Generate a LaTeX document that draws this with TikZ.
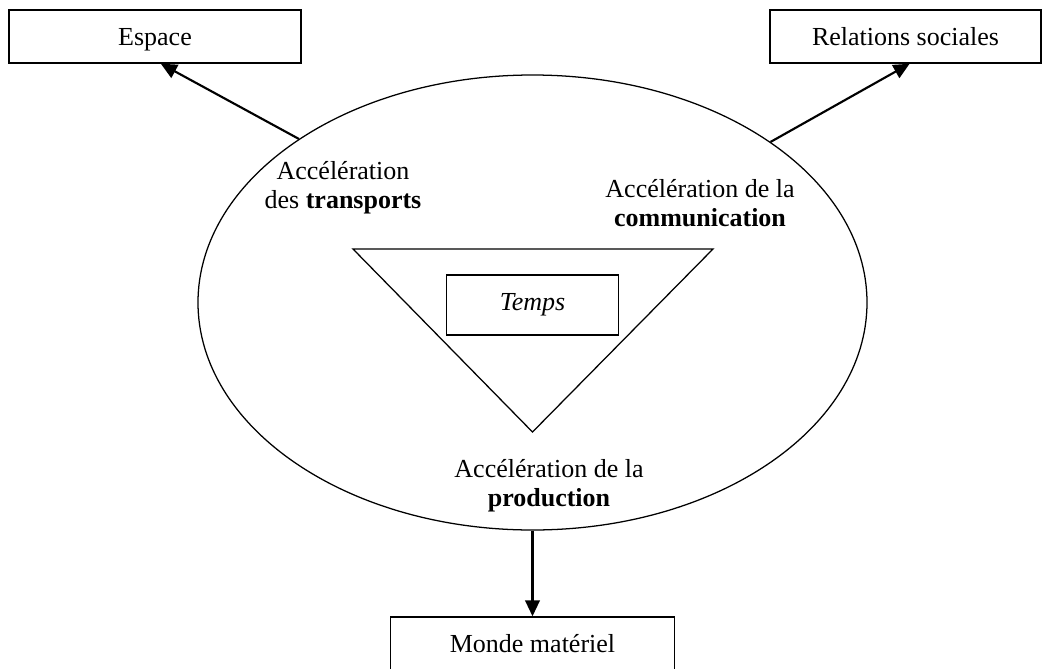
\documentclass[tikz,border=0pt]{standalone}
\usepackage{fontspec}
\setmainfont{Liberation Serif}
\usetikzlibrary{arrows.meta,shapes.geometric,calc}
\tikzset{
  box/.style={draw, line width=1.1pt, rectangle, inner sep=0pt},
  fixedtext/.style={text height=19pt, text depth=5pt},
  lbl/.style={align=center, inner sep=0pt},
  arr/.style={line width=1.6pt, -{Triangle[length=12pt,width=11pt]}},
  thin/.style={line width=0.95pt}
}
\begin{document}
\begin{tikzpicture}[x=0.75pt,y=-0.75pt,font=\fontsize{19.5}{22}\selectfont]
\useasboundingbox (0,0) rectangle (1043,668);
\node[box, fixedtext, minimum width=219pt, minimum height=39.75pt] (esp) at (155,36.5) {Espace};
\node[box, fixedtext, minimum width=203.25pt, minimum height=39.75pt] (rel) at (905.5,36.5) {Relations sociales};
\node[draw, thin, ellipse, inner sep=0pt, minimum width=501.75pt, minimum height=341.25pt] (ell) at (532.5,302.5) {};
\draw[thin, line join=miter] (353,249) -- (713,249) -- (532.5,432) -- cycle;
\node[box, minimum width=129pt, minimum height=45pt] (temps) at (532.5,305) {\textit{Temps}};
\node[box, fixedtext, minimum width=213pt, minimum height=39.75pt] (monde) at (532.5,643.5) {Monde matériel};
\node[lbl] (tr) at (343,188) {Accélération\\des \textbf{transports}};
\node[lbl] (co) at (700,203) {Accélération de la\\\textbf{communication}};
\node[lbl] (pr) at (549,486) {Accélération de la\\\textbf{production}};
\draw[arr] (ell.145.9) -- ($(esp.south west)!0.52!(esp.south east)$);
\draw[arr] (ell.34.6) -- ($(rel.south west)!0.515!(rel.south east)$);
\draw[arr] (ell.south) -- (monde.north);
\end{tikzpicture}
\end{document}
